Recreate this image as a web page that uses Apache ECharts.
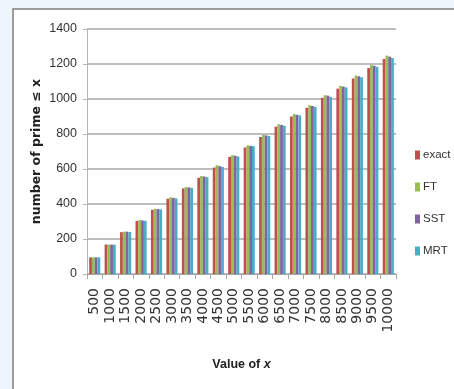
<!DOCTYPE html>
<html>
<head>
<meta charset="utf-8">
<script src="https://cdn.jsdelivr.net/npm/echarts@6/dist/echarts.min.js"></script>
<style>
html,body{margin:0;padding:0;background:#eef5fb;}
#c{width:454px;height:389px;}
</style>
</head>
<body>
<div id="c"></div>
<script>
var categories = ['500','1000','1500','2000','2500','3000','3500','4000','4500','5000','5500','6000','6500','7000','7500','8000','8500','9000','9500','10000'];
var exact = [95,168,239,303,367,430,489,550,608,669,723,783,842,900,950,1007,1059,1117,1177,1229];
var ft    = [95,168,242,308,373,438,497,560,622,679,735,796,856,914,964,1022,1075,1134,1195,1248];
var sst   = [95,168,242,306,371,435,495,557,616,676,732,792,852,910,960,1019,1071,1130,1190,1242];
var mrt   = [95,168,240,304,369,432,492,553,612,672,730,789,847,906,955,1012,1066,1124,1184,1234];
var seriesNames = ['exact','FT','SST','MRT'];
var yTicks = [0,200,400,600,800,1000,1200,1400];

var chart = echarts.init(document.getElementById('c'), null, {renderer:'canvas'});
var colors = ['#C0504D','#9BBB59','#8064A2','#4BACC6'];
var data = [exact, ft, sst, mrt];
var series = seriesNames.map(function(n,i){
  return {name:n,type:'bar',data:data[i],barGap:'0%',barCategoryGap:'28%',
    itemStyle:{color:colors[i]}};
});
chart.setOption({
  backgroundColor:'transparent',
  animation:false,
  color:colors,
  graphic:[{type:'rect',z:-10,shape:{x:13,y:9,width:460,height:400},
    style:{fill:'#ffffff',stroke:'#7f7f7f',lineWidth:1.5}}],
  grid:{left:87,right:58,top:29,bottom:115,containLabel:false},
  legend:{orient:'vertical',left:415,top:149,padding:0,itemWidth:5,itemHeight:9,itemGap:20,
    icon:'rect',data:seriesNames,
    textStyle:{fontFamily:'Liberation Sans, Arial, sans-serif',fontSize:11.5,color:'#333',padding:[0,0,0,-2]}},
  xAxis:{type:'category',data:categories,
    name:'{a|Value of }{b|x}',nameLocation:'middle',nameGap:84,nameMoveOverlap:false,
    nameTextStyle:{rich:{a:{fontFamily:'Liberation Sans, Arial, sans-serif',fontWeight:'bold',fontSize:12.5,color:'#222'},
                         b:{fontFamily:'Liberation Sans, Arial, sans-serif',fontWeight:'bold',fontStyle:'italic',fontSize:12.5,color:'#222'}}},
    axisLine:{lineStyle:{color:'#a6a6a6',width:1}},
    axisTick:{show:true,length:5,lineStyle:{color:'#a6a6a6'}},
    axisLabel:{rotate:90,margin:14,fontFamily:'DejaVu Sans',fontSize:14,color:'#333',interval:0}
  },
  yAxis:{type:'value',min:0,max:1400,interval:200,
    name:'number of prime \u2264 x',nameLocation:'middle',nameGap:44,nameMoveOverlap:false,
    nameTextStyle:{fontFamily:'DejaVu Sans, sans-serif',fontWeight:'bold',fontSize:12.5,color:'#222'},
    axisLine:{show:true,lineStyle:{color:'#b5b5b5',width:1}},
    axisTick:{show:true,length:4,lineStyle:{color:'#b5b5b5'}},
    axisLabel:{margin:10,fontFamily:'Liberation Sans, Arial, sans-serif',fontSize:12.5,color:'#333',
      formatter:function(v){return yTicks.indexOf(v)>=0?String(v):'';}},
    splitLine:{lineStyle:{color:'#a8a8a8',width:1.5}}
  },
  series:series
});
</script>
</body>
</html>
